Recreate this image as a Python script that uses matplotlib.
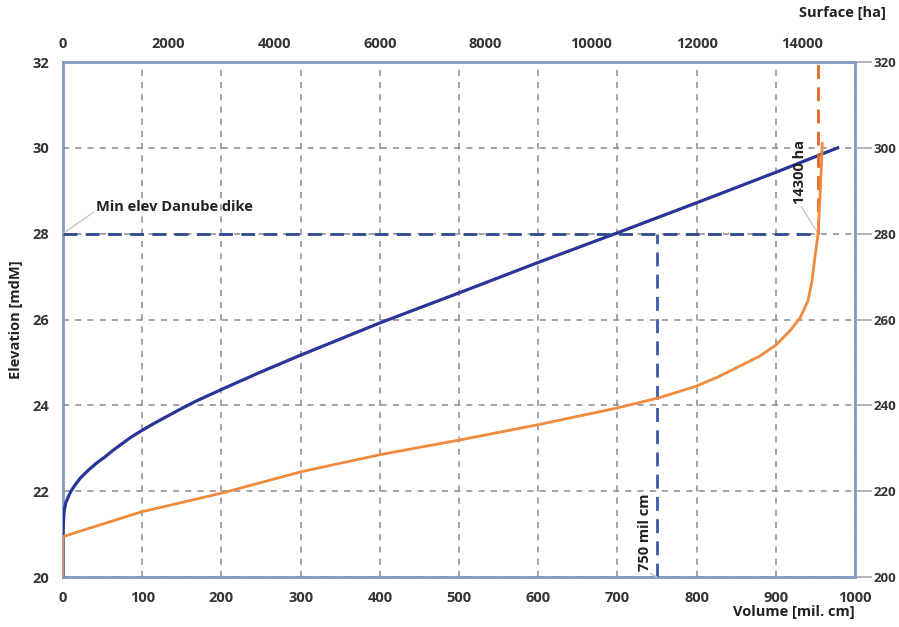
import matplotlib
matplotlib.use("Agg")
import matplotlib.pyplot as plt

# Volume curve (bottom axis, mil. cm) against elevation (mdM)
volume = [0, 0, 0.5, 1.6, 3.5, 6.7, 10, 15, 22, 32, 42, 53, 63, 74, 86, 100, 115, 129,
          148, 167, 200, 250, 300, 400, 500, 600, 700, 800, 900, 978]
volume_elev = [20.0, 21.0, 21.3, 21.56, 21.73, 21.87, 22.0, 22.14, 22.31, 22.49, 22.65,
               22.8, 22.95, 23.1, 23.26, 23.42, 23.58, 23.72, 23.91, 24.09, 24.37, 24.78,
               25.17, 25.92, 26.62, 27.33, 28.02, 28.72, 29.43, 30.0]

# Surface curve (top axis, ha) against elevation (mdM)
surface = [0, 0, 480, 1490, 2990, 4500, 6000, 7500, 9000, 10500, 11300, 12000, 12400,
           12825, 13200, 13505, 13770, 13960, 14110, 14185, 14240, 14300, 14330, 14360, 14380]
surface_elev = [20.0, 20.94, 21.13, 21.52, 21.95, 22.45, 22.85, 23.19, 23.55, 23.94, 24.18,
                24.45, 24.66, 24.92, 25.15, 25.41, 25.74, 26.04, 26.44, 26.9, 27.45, 28.0,
                28.7, 29.5, 30.1]

vol_ticks = list(range(0, 1001, 100))
surf_ticks = list(range(0, 14001, 2000))
elev_ticks = list(range(20, 33, 2))
right_labels = ["200", "220", "240", "260", "280", "300", "320"]

dike_elev = 28
dike_volume = 750
dike_surface = 14300

plt.rcParams["font.family"] = ["Open Sans", "DejaVu Sans"]
tick_color = "#333333"
spine_color = "#8397c9"

fig = plt.figure(figsize=(8.99, 6.27), dpi=100)
ax = fig.add_axes([0.0701, 0.0797, 0.881, 0.8214])

ax.set_xlim(0, 1000)
ax.set_ylim(20, 32)
ax.set_xticks(vol_ticks)
ax.set_yticks(elev_ticks)
ax.grid(True, color="#8a8a8a", linestyle=(0, (4, 4)), linewidth=1.1)
ax.tick_params(axis="both", length=0, labelsize=10.5, colors=tick_color, pad=10)
for lbl in ax.get_xticklabels() + ax.get_yticklabels():
    lbl.set_fontweight("bold")
for s in ax.spines.values():
    s.set_color(spine_color)
    s.set_linewidth(2)

# Surface axis on top
ax2 = ax.twiny()
ax2.set_xlim(0, 15000)
ax2.set_xticks(surf_ticks)
ax2.tick_params(axis="x", length=0, labelsize=10.5, colors=tick_color, pad=8)
for lbl in ax2.get_xticklabels():
    lbl.set_fontweight("bold")
for s in ax2.spines.values():
    s.set_visible(False)

# Secondary scale on the right
ax3 = ax.twinx()
ax3.set_ylim(20, 32)
ax3.set_yticks(elev_ticks)
ax3.set_yticklabels(right_labels)
ax3.tick_params(axis="y", length=12, width=1.1, color="#a0a0a0", labelsize=9.5,
                colors=tick_color, pad=1)
for lbl in ax3.get_yticklabels():
    lbl.set_fontweight("bold")
    lbl.set_color(tick_color)
for s in ax3.spines.values():
    s.set_visible(False)

# Reference lines for the dike elevation
ax2.plot([0, dike_surface], [dike_elev, dike_elev], color="#2d4b8e", linewidth=2,
         linestyle=(0, (5, 3)), zorder=3)
ax.plot([dike_volume, dike_volume], [20, dike_elev], color="#3b5aa8", linewidth=2,
        linestyle=(0, (5, 3)), zorder=3)
ax2.plot([dike_surface, dike_surface], [dike_elev, 32], color="#e0691f", linewidth=2,
         linestyle=(0, (5, 3)), zorder=3)

# Curves
ax2.plot(surface, surface_elev, color="#f08a3c", linewidth=2, zorder=4,
         solid_joinstyle="round")
ax.plot(volume, volume_elev, color="#2b3497", linewidth=2.3, zorder=5,
        solid_joinstyle="round")

# Labels with leader lines
ax.annotate("Min elev Danube dike", xy=(0, dike_elev), xytext=(42, 28.45),
            fontsize=10.5, fontweight="bold", color="#222222", va="bottom",
            arrowprops=dict(arrowstyle="-", color="#c8c8c8", lw=1,
                            shrinkA=0, shrinkB=0, relpos=(0, 0.3)))
ax.annotate("750 mil cm", xy=(dike_volume, 20), xytext=(735, 20.15),
            fontsize=10.5, fontweight="bold", color="#222222", rotation=90,
            ha="center", va="bottom",
            arrowprops=dict(arrowstyle="-", color="#c8c8c8", lw=1,
                            shrinkA=0, shrinkB=0, relpos=(0.5, 0)))
ax2.annotate("14300 ha", xy=(dike_surface, dike_elev), xytext=(13950, 28.7),
             fontsize=10.5, fontweight="bold", color="#222222", rotation=90,
             ha="center", va="bottom",
             arrowprops=dict(arrowstyle="-", color="#c8c8c8", lw=1,
                             shrinkA=0, shrinkB=0, relpos=(0.5, 0)))

# Axis titles
fig.text(0.018, 0.49, "Elevation [mdM]", rotation=90, ha="center", va="center",
         fontsize=10.5, fontweight="bold", color="#222222")
fig.text(0.951, 0.012, "Volume [mil. cm]", ha="right", va="bottom",
         fontsize=10.5, fontweight="bold", color="#222222")
fig.text(0.985, 0.968, "Surface [ha]", ha="right", va="bottom",
         fontsize=10.5, fontweight="bold", color="#222222")

fig.savefig("out.png", dpi=100)
